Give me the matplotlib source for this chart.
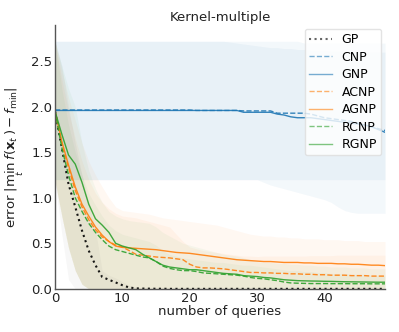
import numpy as np
import matplotlib
matplotlib.use("Agg")
import matplotlib.pyplot as plt

queries = list(range(50))

gp = [1.95, 1.55, 1.15, 0.9, 0.64, 0.42, 0.26, 0.13, 0.1, 0.07, 0.04, 0.015, 0.005, 0.003, 0.002, 0.001,
      0.001, 0.0, 0.0, 0.0, 0.0, 0.0, 0.0, 0.0, 0.0, 0.0, 0.0, 0.0, 0.0, 0.0, 0.0, 0.0, 0.0, 0.0, 0.0,
      0.0, 0.0, 0.0, 0.0, 0.0, 0.0, 0.0, 0.0, 0.0, 0.0, 0.0, 0.0, 0.0, 0.0, 0.0]
cnp = [1.965] * 21 + [1.96] * 7 + [1.955] * 5 + [1.93] * 5 + [1.92, 1.9, 1.88, 1.87, 1.86, 1.85, 1.84,
                                                               1.82, 1.8, 1.78, 1.76, 1.74]
gnp = [1.96] * 28 + [1.94] * 5 + [1.92, 1.91, 1.89, 1.88, 1.88, 1.88, 1.87, 1.86, 1.85, 1.84, 1.83,
                                   1.82, 1.81, 1.80, 1.78, 1.75, 1.72]
acnp = [1.95, 1.6, 1.33, 1.08, 0.9, 0.76, 0.65, 0.57, 0.52, 0.48, 0.46, 0.42, 0.38, 0.37, 0.36, 0.35,
        0.345, 0.34, 0.33, 0.32, 0.27, 0.24, 0.23, 0.23, 0.225, 0.22, 0.21, 0.2, 0.19, 0.18, 0.18,
        0.175, 0.175, 0.17, 0.17, 0.165, 0.165, 0.16, 0.16, 0.155, 0.155, 0.15, 0.15, 0.15, 0.145,
        0.145, 0.145, 0.14, 0.14, 0.14]
agnp = [1.95, 1.62, 1.36, 1.12, 0.93, 0.8, 0.68, 0.59, 0.52, 0.47, 0.455, 0.45, 0.445, 0.44, 0.435,
        0.43, 0.42, 0.41, 0.4, 0.395, 0.39, 0.38, 0.37, 0.36, 0.35, 0.34, 0.33, 0.32, 0.315, 0.31,
        0.305, 0.3, 0.3, 0.295, 0.29, 0.29, 0.29, 0.285, 0.285, 0.28, 0.28, 0.28, 0.275, 0.275, 0.27,
        0.27, 0.265, 0.26, 0.26, 0.255]
rcnp = [1.95, 1.55, 1.25, 1.0, 0.85, 0.72, 0.62, 0.54, 0.47, 0.43, 0.41, 0.39, 0.37, 0.35, 0.34, 0.3,
        0.25, 0.225, 0.21, 0.2, 0.2, 0.19, 0.175, 0.17, 0.165, 0.16, 0.155, 0.15, 0.14, 0.125, 0.115,
        0.11, 0.1, 0.09, 0.075, 0.065, 0.062, 0.06, 0.058, 0.058, 0.058, 0.057, 0.057, 0.057, 0.056,
        0.056, 0.056, 0.055, 0.055, 0.055]
rgnp = [1.95, 1.7, 1.47, 1.37, 1.17, 0.93, 0.77, 0.7, 0.62, 0.5, 0.47, 0.45, 0.43, 0.38, 0.34, 0.3,
        0.26, 0.24, 0.23, 0.22, 0.21, 0.21, 0.2, 0.19, 0.18, 0.17, 0.165, 0.16, 0.145, 0.14, 0.135,
        0.125, 0.12, 0.11, 0.1, 0.095, 0.09, 0.088, 0.086, 0.085, 0.083, 0.082, 0.08, 0.078, 0.077,
        0.076, 0.075, 0.074, 0.073, 0.073]

# shaded band bounds (mean +/- spread)
gp_hi = [2.72, 2.45, 2.0, 1.6, 1.25, 0.95, 0.65, 0.2, 0.15, 0.12, 0.08, 0.04, 0.02] + [0.005] * 37
gp_lo = [1.18, 0.6, 0.1] + [0.0] * 47
cnp_hi = [2.72] * 37 + [2.7] * 13
cnp_lo = [1.2] * 50
gnp_hi = [2.72] * 26 + [2.71, 2.7, 2.69, 2.68, 2.67, 2.66, 2.65, 2.65, 2.64, 2.64, 2.63, 2.63, 2.62,
                        2.62, 2.62, 2.61, 2.61, 2.61, 2.6, 2.6, 2.6, 2.6, 2.6, 2.6]
gnp_lo = [1.2] * 31 + [1.17, 1.14, 1.12, 1.1, 1.08, 1.06, 1.04, 1.02, 1.0, 0.98, 0.95, 0.9, 0.86,
                       0.84, 0.83, 0.83, 0.83, 0.83, 0.83]
agnp_hi = [2.72, 2.4, 2.1, 1.85, 1.6, 1.4, 1.25, 1.12, 1.0, 0.9, 0.86, 0.85, 0.84, 0.83, 0.82, 0.8,
           0.78, 0.77, 0.76, 0.75, 0.74, 0.73, 0.72, 0.71, 0.7, 0.68, 0.66, 0.64, 0.62, 0.6, 0.59,
           0.58, 0.58, 0.57, 0.57, 0.56, 0.56, 0.55, 0.55, 0.55, 0.54, 0.54, 0.54, 0.53, 0.53, 0.53,
           0.52, 0.52, 0.52, 0.52]
acnp_hi = [2.72, 2.3, 1.95, 1.65, 1.4, 1.2, 1.05, 0.95, 0.88, 0.83, 0.8, 0.79, 0.78, 0.76, 0.74,
           0.72, 0.7, 0.68, 0.6, 0.52, 0.46, 0.44, 0.42, 0.41, 0.4, 0.39, 0.38, 0.37, 0.36, 0.36,
           0.355, 0.36, 0.36, 0.36, 0.36, 0.36, 0.36, 0.36, 0.365, 0.365, 0.365, 0.365, 0.37, 0.37,
           0.37, 0.37, 0.37, 0.37, 0.37, 0.37]
rgnp_hi = [2.72, 2.45, 2.2, 2.0, 1.6, 1.3, 1.1, 0.95, 0.85, 0.8, 0.77, 0.75, 0.74, 0.73, 0.72, 0.68,
           0.62, 0.58, 0.54, 0.5, 0.48, 0.46, 0.44, 0.42, 0.4, 0.38, 0.37, 0.36, 0.34, 0.32, 0.3,
           0.29, 0.29, 0.28, 0.28, 0.27, 0.27, 0.26, 0.26, 0.25, 0.25, 0.24, 0.24, 0.24, 0.23, 0.23,
           0.23, 0.22, 0.22, 0.22]
rcnp_hi = [2.72, 2.2, 1.8, 1.5, 1.25, 1.05, 0.92, 0.8, 0.7, 0.64, 0.6, 0.58, 0.56, 0.54, 0.52, 0.48,
           0.42, 0.38, 0.36, 0.34, 0.33, 0.32, 0.31, 0.3, 0.29, 0.29, 0.28, 0.27, 0.26, 0.26, 0.25,
           0.24, 0.23, 0.22, 0.21, 0.2, 0.2, 0.19, 0.19, 0.18, 0.18, 0.17, 0.17, 0.17, 0.16, 0.16,
           0.16, 0.15, 0.15, 0.15]
np_lo = [1.18, 0.8, 0.45, 0.2, 0.05] + [0.0] * 45

labels = ["GP", "CNP", "GNP", "ACNP", "AGNP", "RCNP", "RGNP"]
means = [gp, cnp, gnp, acnp, agnp, rcnp, rgnp]
his = [gp_hi, cnp_hi, gnp_hi, acnp_hi, agnp_hi, rcnp_hi, rgnp_hi]
los = [gp_lo, cnp_lo, gnp_lo, np_lo, np_lo, np_lo, np_lo]
colors = ["black", "#1f77b4", "#1f77b4", "#ff7f0e", "#ff7f0e", "#2ca02c", "#2ca02c"]
styles = [":", "--", "-", "--", "-", "--", "-"]
band_alpha = [0.03, 0.05, 0.05, 0.05, 0.05, 0.045, 0.045]

fig = plt.figure(figsize=(3.99, 3.32), dpi=100)
ax = fig.add_axes([0.138, 0.13, 0.827, 0.795])

for m, hi, lo, c, ls, lab, a in zip(means, his, los, colors, styles, labels, band_alpha):
    ax.fill_between(queries, lo, hi, color=c, alpha=a, linewidth=0)
    lw = 1.5 if ls == ":" else 1.0
    ax.plot(queries, m, color=c, linestyle=ls, linewidth=lw, label=lab, alpha=0.9)

ax.set_xlim(0, 49)
ax.set_ylim(0, 2.9)
ax.set_xticks([0, 10, 20, 30, 40])
ax.set_yticks([0.0, 0.5, 1.0, 1.5, 2.0, 2.5])
ax.tick_params(length=0, labelsize=9.5, colors="#222222", pad=2)
for s in ["top", "right"]:
    ax.spines[s].set_visible(False)
for s in ["left", "bottom"]:
    ax.spines[s].set_color("#555555")
    ax.spines[s].set_linewidth(1.0)

ax.set_title("Kernel-multiple", fontsize=9.5, color="#222222", pad=3)
ax.set_xlabel("number of queries", fontsize=9.5, labelpad=0, color="#222222")
ax.set_ylabel(r"error $|\min_t\, f(\mathbf{x}_t) - f_{\min}|$", fontsize=9.5, color="#222222", labelpad=4)

leg = ax.legend(loc="upper right", fontsize=9, handlelength=1.8, labelspacing=0.36,
                borderaxespad=0.3, borderpad=0.35, framealpha=0.8, edgecolor="#dddddd")
for h in leg.get_lines():
    h.set_alpha(0.6)

fig.savefig("out.png", dpi=100)
